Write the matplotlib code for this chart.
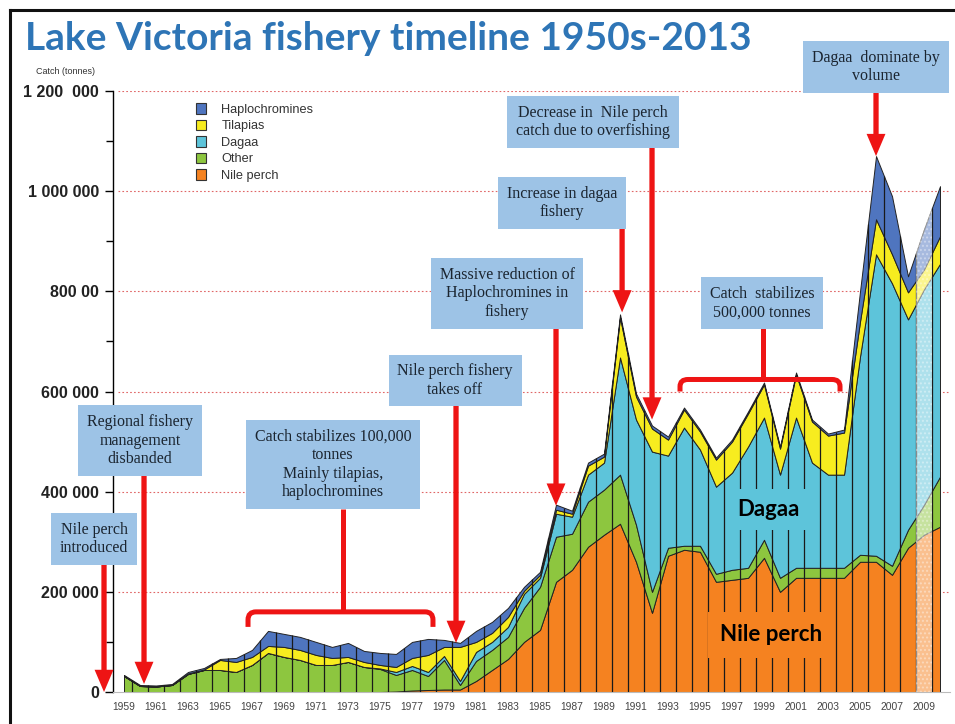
import numpy as np
import matplotlib.pyplot as plt
from matplotlib.patches import Patch, PathPatch
from matplotlib.path import Path
from matplotlib.lines import Line2D

# catch per group, thousand tonnes, 1959-2010
years = np.arange(1959, 2011)

nile_perch = [0, 0, 0, 0, 0, 0, 0, 0, 0, 0, 0, 0, 0, 0, 0, 0, 0,
              1, 3, 4, 5, 5, 22, 44, 66, 100, 124, 220, 244, 290, 314, 336,
              260, 158, 272, 284, 280, 220, 224, 228, 268, 200, 228, 228,
              228, 228, 260, 260, 234, 288, 314, 330]
other = [32, 12, 11, 14, 36, 44, 44, 40, 54, 78, 70, 64, 54, 54, 60, 50, 46,
         33, 41, 28, 59, 9, 40, 40, 44, 68, 86, 90, 72, 90, 90, 98,
         74, 42, 16, 8, 12, 16, 20, 20, 36, 28, 20, 20,
         20, 20, 14, 12, 18, 36, 60, 100]
dagaa = [0, 0, 0, 0, 0, 0, 0, 0, 0, 0, 0, 0, 0, 0, 0, 0, 1,
         6, 8, 8, 8, 8, 18, 16, 20, 28, 18, 46, 34, 54, 54, 234,
         210, 280, 184, 236, 192, 174, 194, 242, 244, 206, 300, 210,
         186, 186, 396, 602, 564, 420, 430, 425]
tilapias = [0, 0, 0, 0, 1, 1, 20, 20, 16, 14, 20, 20, 20, 14, 10, 10, 7,
            10, 16, 34, 18, 68, 20, 18, 20, 6, 6, 8, 6, 18, 12, 80,
            46, 46, 32, 36, 36, 54, 62, 66, 66, 52, 86, 82,
            78, 84, 70, 70, 58, 54, 40, 55]
haplochromines = [2, 2, 2, 2, 3, 3, 2, 8, 14, 30, 26, 26, 26, 22, 28, 22, 24,
                  26, 32, 32, 14, 8, 22, 22, 18, 8, 6, 10, 6, 6, 6, 6,
                  6, 6, 6, 4, 4, 4, 4, 4, 4, 4, 4, 4,
                  4, 6, 60, 126, 116, 32, 80, 100]

series = [np.array(s) * 1000 for s in
          (nile_perch, other, dagaa, tilapias, haplochromines)]
colors = ['#F58220', '#8DC63F', '#5DC4DA', '#F7EC1F', '#4F75BF']
names = ['Nile perch', 'Other', 'Dagaa', 'Tilapias', 'Haplochromines']
total = np.sum(series, axis=0)

RED = '#EE1414'
BOX = '#9DC3E6'

fig = plt.figure(figsize=(9.55, 7.24), dpi=100)
ax = fig.add_axes([0.1183, 0.0442, 0.8764, 0.8301])
ax.set_xlim(1958.31, 2010.62)
ax.set_ylim(0, 1200000)

# red dotted grid behind everything
for v in range(200000, 1200001, 200000):
    ax.axhline(v, xmin=0.006, color='#E06666', ls=(0, (1.5, 2)), lw=0.8, zorder=1)

ax.stackplot(years, *series, colors=colors, edgecolor='#222222',
             linewidth=0.7, zorder=2)

# year separators
xs = years[:-1] + 0.5
ax.vlines(xs, 0, np.interp(xs, years, total), colors='#1a1a1a', lw=0.9, zorder=3)

# lighter hatched column
hx = np.array([2008.5, 2009, 2009.5])
ax.fill_between(hx, 0, np.interp(hx, years, total), facecolor=(1, 1, 1, 0.5),
                edgecolor=(1, 1, 1, 0.35), hatch='....', lw=0, zorder=3)

# axes styling
for s in ['top', 'right']:
    ax.spines[s].set_visible(False)
ax.spines['left'].set_color('black')
ax.spines['left'].set_linewidth(1.0)
ax.spines['bottom'].set_color('#bbbbbb')
ax.spines['bottom'].set_linewidth(0.8)

ax.set_yticks(range(0, 1200001, 200000))
ax.set_yticklabels(['0', '200 000', '400 000', '600 000', '800 00',
                    '1 000 000', '1 200  000'],
                   fontsize=11.5, fontweight='bold', family='Liberation Sans',
                   color='#222222')
ax.set_yticks(range(100000, 1200000, 200000), minor=True)
ax.tick_params(axis='y', which='major', length=6, width=1, pad=4)
ax.tick_params(axis='y', which='minor', length=5, width=1)

ax.set_xticks(years[::2])
ax.set_xticklabels([str(y) for y in years[::2]], fontsize=7.4,
                   family='Liberation Sans', color='#444444')
ax.tick_params(axis='x', length=0, pad=7)

# legend
handles = [Patch(facecolor=c, edgecolor='#333333', lw=0.8, label=n)
           for c, n in zip(colors[::-1], names[::-1])]
fig.legend(handles=handles, loc='upper left', bbox_to_anchor=(0.205, 1 - 103 / 724),
           frameon=False, prop={'family': 'Liberation Sans', 'size': 9.2},
           labelcolor='#333333', handlelength=0.8, handleheight=0.9,
           handletextpad=1.2, labelspacing=0.3, borderpad=0, borderaxespad=0)

# title and axis caption
fig.text(25 / 955, 1 - 39 / 724, 'Lake Victoria fishery timeline 1950s-2013',
         fontsize=28, fontweight='bold', family='Lato', color='#2E75B6',
         va='center', ha='left')
fig.text(66 / 955, 1 - 71 / 724, 'Catch (tonnes)', fontsize=6.5,
         family='Liberation Sans', color='#333333', ha='center', va='center')

# slide frame
fig.add_artist(Line2D([10 / 955, 10 / 955], [0, 1 - 10 / 724], color='#111111',
                      lw=2.2, transform=fig.transFigure))
fig.add_artist(Line2D([10 / 955, 1], [1 - 10 / 724, 1 - 10 / 724], color='#111111',
                      lw=2.2, transform=fig.transFigure))

# in-chart labels
ax.text(1999.3, 364000, 'Dagaa', fontsize=16, fontweight='bold', family='Lato',
        ha='center', va='center', zorder=4,
        bbox=dict(boxstyle='square,pad=0.45', fc=colors[2], ec='none'))
ax.text(1999.45, 114000, 'Nile perch', fontsize=16, fontweight='bold',
        family='Lato', ha='center', va='center', zorder=4,
        bbox=dict(boxstyle='square,pad=0.55', fc=colors[0], ec='none'))


def note(x, y, text):
    ax.text(x, y, text, ha='center', va='center', fontsize=11.5,
            family='Liberation Serif', color='#1b2530', linespacing=1.2,
            zorder=6, clip_on=False,
            bbox=dict(boxstyle='square,pad=0.55', fc=BOX, ec='none'))


def arrow(x, y0, y1):
    ax.annotate('', xy=(x, y1), xytext=(x, y0), annotation_clip=False,
                arrowprops=dict(arrowstyle='simple,head_length=0.8,head_width=0.68,tail_width=0.19',
                                fc=RED, ec='none', shrinkA=0, shrinkB=0,
                                mutation_scale=20), zorder=5)


def bracket(x0, x1, ybar, yend, xstem, ytop, rx=0.5, ry=16000):
    verts = [(x0, yend), (x0, ybar - ry), (x0, ybar), (x0 + rx, ybar),
             (x1 - rx, ybar), (x1, ybar), (x1, ybar - ry), (x1, yend)]
    codes = [Path.MOVETO, Path.LINETO, Path.CURVE3, Path.CURVE3,
             Path.LINETO, Path.CURVE3, Path.CURVE3, Path.LINETO]
    ax.add_patch(PathPatch(Path(verts, codes), fill=False, ec=RED, lw=3.6,
                           zorder=5, clip_on=False))
    ax.plot([xstem, xstem], [ytop, ybar], color=RED, lw=3.6, zorder=5,
            clip_on=False, solid_capstyle='butt')


note(1957.13, 306000, 'Nile perch\nintroduced')
arrow(1957.75, 258000, 0)

note(1960.0, 502000, 'Regional fishery\nmanagement\ndisbanded')
arrow(1960.25, 434000, 16000)

note(1972.06, 454000, 'Catch stabilizes 100,000\ntonnes\nMainly tilapias,\nhaplochromines')
bracket(1966.75, 1978.31, 160000, 130000, 1972.69, 366000)

note(1979.69, 622000, 'Nile perch fishery\ntakes off')
arrow(1979.75, 574000, 98000)

note(1982.94, 796000, 'Massive reduction of\nHaplochromines in\nfishery')
arrow(1986.0, 728000, 372000)

note(1986.38, 976000, 'Increase in dagaa\nfishery')
arrow(1990.13, 928000, 758000)

note(1988.31, 1138000, 'Decrease in  Nile perch\ncatch due to overfishing')
arrow(1992.0, 1090000, 544000)

note(1998.88, 776000, 'Catch  stabilizes\n500,000 tonnes')
bracket(1993.75, 2003.75, 624000, 600000, 1998.94, 728000, ry=14000)

note(2006.0, 1248000, 'Dagaa  dominate by\nvolume')
arrow(2006.0, 1200000, 1070000)

fig.savefig('out.png', dpi=100, facecolor='white')
